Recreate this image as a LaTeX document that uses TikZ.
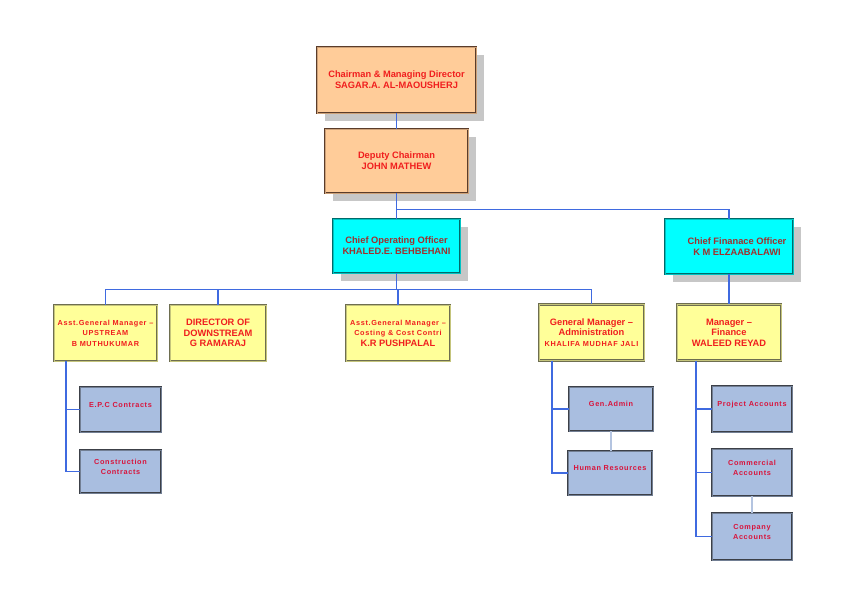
\documentclass[tikz,border=0pt]{standalone}
\usepackage{fontspec}
\setmainfont{Liberation Sans}
\newfontfamily\spacedfont{Liberation Sans}[LetterSpace=9]
\usepackage{xcolor}
\usepackage{tikz}
\usetikzlibrary{positioning,shadows}
\definecolor{peachfill}{HTML}{FFCC99}
\definecolor{peachline}{HTML}{5A3C2A}
\definecolor{cyanfill}{HTML}{00FFFF}
\definecolor{cyanline}{HTML}{006A6A}
\definecolor{yellowfill}{HTML}{FFFF99}
\definecolor{yellowline}{HTML}{6E6E50}
\definecolor{greyblue}{HTML}{A9BEE0}
\definecolor{greyline}{HTML}{3C4048}
\definecolor{titlered}{HTML}{F01E1E}
\definecolor{darkred}{HTML}{A0302E}
\definecolor{crimson}{HTML}{D8143C}
\definecolor{linkblue}{HTML}{3F6AE0}
\definecolor{faintblue}{HTML}{B4C4E0}
\newcommand\sm[1]{{\spacedfont\bfseries\fontsize{7.3}{10}\selectfont #1}}
\tikzstyle{box} = [rectangle, inner sep=1pt, align=center, line width=0.8pt, double distance=0.9pt, font=\bfseries\fontsize{9.3}{11}\selectfont]
\tikzstyle{shade} = [drop shadow={shadow xshift=8pt, shadow yshift=-8pt, fill=black!22, opacity=1}]
\tikzstyle{topbox} = [box, shade, fill=peachfill, draw=peachline, double=peachfill!70!peachline, text=titlered]
\tikzstyle{offbox} = [box, shade, fill=cyanfill, draw=cyanline, double=cyanfill!60!cyanline, text=darkred]
\tikzstyle{mgrbox} = [box, fill=yellowfill, draw=yellowline, double=yellowfill!60!yellowline, text=titlered, minimum height=56pt, font=\bfseries\fontsize{9.3}{10.5}\selectfont]
\tikzstyle{secbox} = [box, fill=greyblue, draw=greyline, double=greyblue!50!greyline, text=crimson, text depth=10pt, font=\bfseries\fontsize{7.3}{10}\selectfont]
\tikzstyle{link} = [draw=linkblue, line width=1.3pt]
\tikzstyle{faint} = [draw=faintblue, line width=1.3pt]
\begin{document}
\begin{tikzpicture}[x=1pt,y=-1pt]
		\useasboundingbox (0,0) rectangle (842,595);
		% board
		\node (chair)  [topbox, minimum width=159pt, minimum height=66pt] at (396.5,80)  {Chairman \& Managing Director\\SAGAR.A. AL-MAOUSHERJ};
		\node (deputy) [topbox, minimum width=143pt, minimum height=64pt] at (396.5,161) {Deputy Chairman\\JOHN MATHEW};
		% officers
		\node (coo) [offbox, minimum width=127pt, minimum height=54pt] at (396.5,246) {Chief Operating Officer\\KHALED.E. BEHBEHANI};
		\node (cfo) [offbox, minimum width=128pt, minimum height=55pt] at (729,246.5)  {\hspace*{16pt}Chief Finanace Officer\\\hspace*{16pt}K M ELZAABALAWI};
		% managers
		\node (agmup)   [mgrbox, minimum width=103pt] at (105.5,333) {\sm{Asst.General Manager –}\\\sm{UPSTREAM}\\\sm{B MUTHUKUMAR}};
		\node (dirdown) [mgrbox, minimum width=96pt]  at (218,333)   {DIRECTOR OF\\DOWNSTREAM\\G RAMARAJ};
		\node (agmcost) [mgrbox, minimum width=104pt] at (398,333)   {\sm{Asst.General Manager –}\\\sm{Costing \& Cost Contri}\\K.R PUSHPALAL};
		\node (gmadmin) [mgrbox, minimum width=105pt] at (591.5,332.5) {General Manager –\\Administration\\\sm{KHALIFA MUDHAF JALI}};
		\node (mgrfin)  [mgrbox, minimum width=104pt] at (729,332.5) {Manager –\\Finance\\WALEED REYAD};
		% sections
		\node (epc)      [secbox, minimum width=81pt, minimum height=45pt] at (120.5,409.5) {\sm{E.P.C Contracts}};
		\node (constr)   [secbox, minimum width=81pt, minimum height=43pt] at (120.5,471.5) {\sm{Construction}\\\sm{Contracts}};
		\node (genadmin) [secbox, minimum width=84pt, minimum height=44pt] at (611,409)     {\sm{Gen.Admin}};
		\node (hr)       [secbox, minimum width=84pt, minimum height=44pt] at (610,473)     {\sm{Human Resources}};
		\node (projacc)  [secbox, minimum width=80pt, minimum height=46pt] at (752,409)     {\sm{Project Accounts}};
		\node (commacc)  [secbox, minimum width=80pt, minimum height=47pt] at (752,472.5)   {\sm{Commercial}\\\sm{Accounts}};
		\node (compacc)  [secbox, minimum width=80pt, minimum height=47pt] at (752,536.5)   {\sm{Company}\\\sm{Accounts}};
		% connectors
		\draw[link] (chair) -- (deputy);
		\draw[link] (deputy) -- (coo);
		\draw[link] (deputy.south) ++(0,16) coordinate (topbus) -| (cfo.north); % bus to cfo
		\draw[link] (coo.south) -- ++(0,16) coordinate (midbus); % bus to managers
		\foreach \n in {agmup,dirdown,agmcost,gmadmin} \draw[link] (midbus) -| (\n.north);
		\draw[link] (cfo) -- (mgrfin);
		\foreach \a/\b in {agmup/epc,agmup/constr,gmadmin/genadmin,gmadmin/hr} \draw[link] ([xshift=-39.5pt]\a.south) |- (\b.west);
		\foreach \b in {projacc,commacc,compacc} \draw[link] ([xshift=-33pt]mgrfin.south) |- (\b.west);
		\draw[faint] (genadmin) -- (genadmin |- hr.north);
		\draw[faint] (commacc) -- (compacc);
\end{tikzpicture}
\end{document}
